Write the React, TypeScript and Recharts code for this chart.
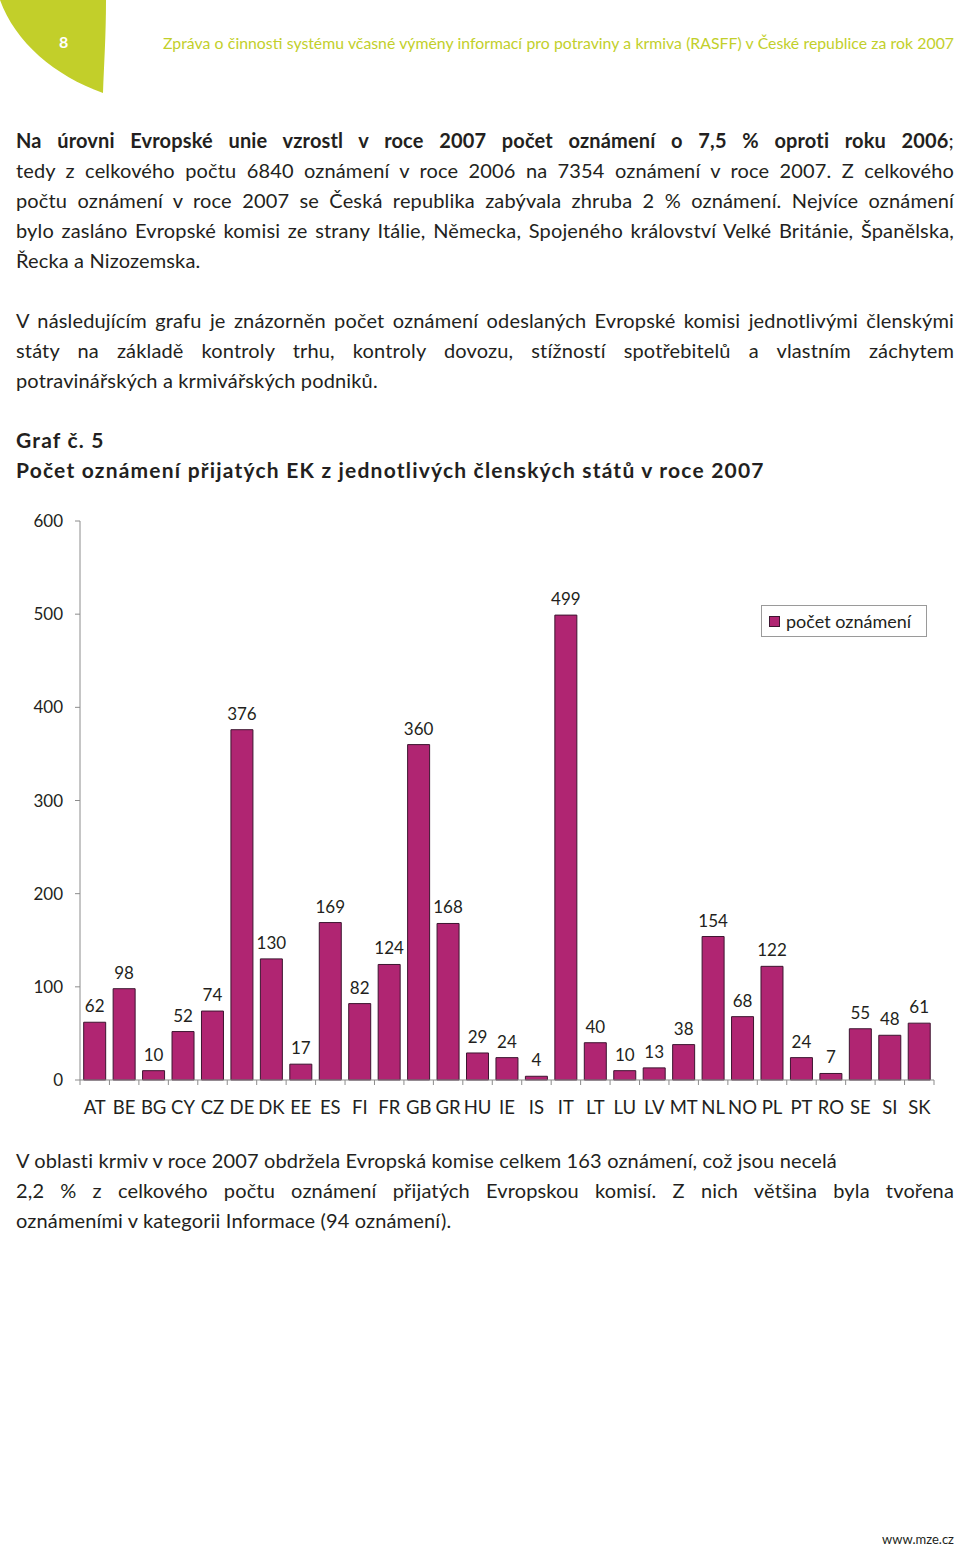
import React from "react";
import { BarChart, Bar, XAxis, YAxis, LabelList, Legend } from "recharts";

const countries = [
  "AT", "BE", "BG", "CY", "CZ", "DE", "DK", "EE", "ES", "FI", "FR", "GB", "GR", "HU", "IE",
  "IS", "IT", "LT", "LU", "LV", "MT", "NL", "NO", "PL", "PT", "RO", "SE", "SI", "SK",
];
const notifications = [
  62, 98, 10, 52, 74, 376, 130, 17, 169, 82, 124, 360, 168, 29, 24,
  4, 499, 40, 10, 13, 38, 154, 68, 122, 24, 7, 55, 48, 61,
];
const yTicks = [0, 100, 200, 300, 400, 500, 600];
const seriesName = "počet oznámení";

const chartData = countries.map((c, i) => ({ country: c, value: notifications[i] }));

const FONT = "Lato, 'Open Sans', sans-serif";
const TEXT = "#231f20";
const BAR = "#b02572";
const BAR_EDGE = "#3d1530";
const AXIS = "#8c8c8c";
const GREEN = "#c2cf2a";

const para1 = [
  "tedy z celkového počtu 6840 oznámení v roce 2006 na 7354 oznámení v roce 2007. Z celkového",
  "počtu oznámení v roce 2007 se Česká republika zabývala zhruba 2 % oznámení. Nejvíce oznámení",
  "bylo zasláno Evropské komisi ze strany Itálie, Německa, Spojeného království Velké Británie, Španělska,",
];
const para2 = [
  "V následujícím grafu je znázorněn počet oznámení odeslaných Evropské komisi jednotlivými členskými",
  "státy na základě kontroly trhu, kontroly dovozu, stížností spotřebitelů a vlastním záchytem",
];

function Line({ top, children, justify = false, bold = false }: any) {
  return (
    <div
      style={{
        position: "absolute",
        left: 16,
        top,
        width: 938,
        height: 30,
        lineHeight: "30px",
        fontSize: bold ? 21 : 20,
        letterSpacing: bold ? 1.2 : 0.15,
        fontWeight: bold ? 700 : 400,
        color: TEXT,
        whiteSpace: "nowrap",
        textAlign: justify ? "justify" : "left",
        textAlignLast: justify ? "justify" : "left",
      }}
    >
      {children}
    </div>
  );
}

function CountryTick(props: any) {
  const { x, y, payload, index, width, visibleTicksCount } = props;
  const half = (width || 854) / (visibleTicksCount || countries.length) / 2;
  return (
    <g>
      <line x1={x - half} y1={y} x2={x - half} y2={y + 5} stroke={AXIS} />
      {index === countries.length - 1 && (
        <line x1={x + half} y1={y} x2={x + half} y2={y + 5} stroke={AXIS} />
      )}
      <text x={x} y={y + 27} textAnchor="middle" dominantBaseline="central" fill={TEXT} fontSize={18.5} fontFamily={FONT}>
        {payload.value}
      </text>
    </g>
  );
}

function LegendBox() {
  return (
    <div
      style={{
        width: 166,
        height: 32,
        boxSizing: "border-box",
        border: "1px solid #9a9a9a",
        background: "#fff",
        display: "flex",
        alignItems: "center",
        paddingLeft: 7,
        fontSize: 18,
        color: TEXT,
        fontFamily: FONT,
      }}
    >
      <span style={{ width: 9, height: 9, background: BAR, border: `1px solid ${BAR_EDGE}`, marginRight: 6 }} />
      <span>{seriesName}</span>
    </div>
  );
}

export default function App() {
  return (
    <div style={{ position: "relative", width: 960, height: 1548, background: "#fff", fontFamily: FONT, overflow: "hidden" }}>
      <style>{`body{margin:0}`}</style>

      <svg width={110} height={96} style={{ position: "absolute", left: 0, top: 0 }}>
        <path d="M0,0 L106,0 C106,35 104,65 103,93 C55,76 15,42 0,0 Z" fill={GREEN} />
      </svg>
      <div style={{ position: "absolute", left: 59, top: 32, fontSize: 16, fontWeight: 700, color: "#fff" }}>8</div>
      <div
        style={{
          position: "absolute",
          left: 163,
          top: 33,
          width: 791,
          fontSize: 15.8,
          color: GREEN,
          whiteSpace: "nowrap",
          textAlign: "justify",
          textAlignLast: "justify",
        }}
      >
        Zpráva o činnosti systému včasné výměny informací pro potraviny a krmiva (RASFF) v České republice za rok 2007
      </div>

      <Line top={125} justify>
        <b>Na úrovni Evropské unie vzrostl v roce 2007 počet oznámení o 7,5 % oproti roku 2006</b>;
      </Line>
      {para1.map((t, i) => (
        <Line key={t} top={155 + i * 30} justify>
          {t}
        </Line>
      ))}
      <Line top={245}>Řecka a Nizozemska.</Line>

      {para2.map((t, i) => (
        <Line key={t} top={305 + i * 30} justify>
          {t}
        </Line>
      ))}
      <Line top={365}>potravinářských a krmivářských podniků.</Line>

      <Line top={425} bold>Graf č. 5</Line>
      <Line top={455} bold>Počet oznámení přijatých EK z jednotlivých členských států v roce 2007</Line>

      <div style={{ position: "absolute", left: 0, top: 500 }}>
        <BarChart
          width={960}
          height={620}
          data={chartData}
          margin={{ top: 21, right: 26, bottom: 10, left: 0 }}
          barCategoryGap="12.5%"
        >
          <XAxis
            dataKey="country"
            interval={0}
            height={30}
            tickLine={false}
            tickSize={0}
            tickMargin={0}
            axisLine={{ stroke: AXIS }}
            tick={<CountryTick />}
          />
          <YAxis
            width={80}
            domain={[0, 600]}
            ticks={yTicks}
            interval={0}
            tickSize={5}
            tickMargin={12}
            axisLine={{ stroke: AXIS }}
            tickLine={{ stroke: AXIS }}
            tick={{ fill: TEXT, fontSize: 17, fontFamily: FONT }}
          />
          <Legend
            layout="horizontal"
            verticalAlign="middle"
            align="center"
            content={<LegendBox />}
            wrapperStyle={{ position: "absolute", left: 761, top: 105, width: 166 }}
          />
          <Bar dataKey="value" name={seriesName} fill={BAR} stroke={BAR_EDGE} strokeWidth={1} isAnimationActive={false}>
            <LabelList dataKey="value" position="top" offset={10} fill={TEXT} fontSize={17} fontFamily={FONT} />
          </Bar>
        </BarChart>
      </div>

      <Line top={1145}>V oblasti krmiv v roce 2007 obdržela Evropská komise celkem 163 oznámení, což jsou necelá</Line>
      <Line top={1175} justify>
        2,2 % z celkového počtu oznámení přijatých Evropskou komisí. Z nich většina byla tvořena
      </Line>
      <Line top={1205}>oznámeními v kategorii Informace (94 oznámení).</Line>

      <div style={{ position: "absolute", right: 6, top: 1531, fontSize: 13, color: TEXT }}>www.mze.cz</div>
    </div>
  );
}
